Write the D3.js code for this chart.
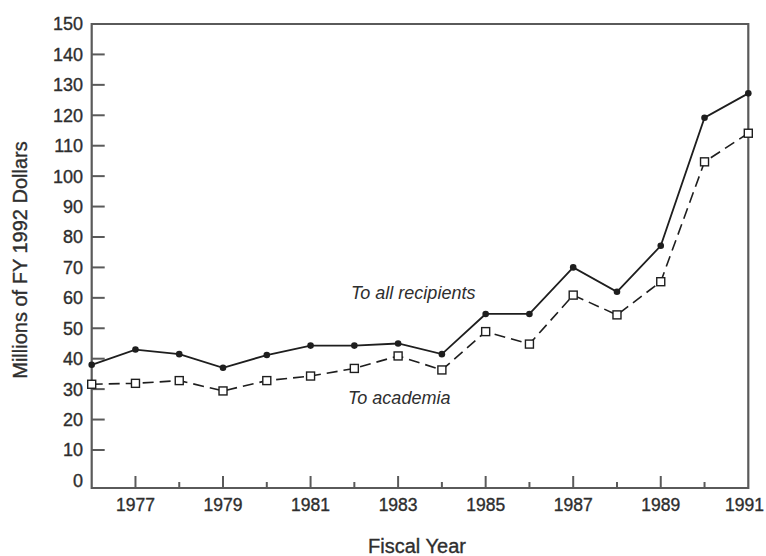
<!DOCTYPE html>
<html><head><meta charset="utf-8">
<script src="https://cdn.jsdelivr.net/npm/d3@7"></script>
<style>body{margin:0;background:#fff}svg{display:block}text{font-family:"Liberation Sans",Arial,sans-serif}</style>
</head><body>
<svg id="c" width="766" height="556"></svg>
<script>
const years = [1976,1977,1978,1979,1980,1981,1982,1983,1984,1985,1986,1987,1988,1989,1990,1991];
const allRecipients = [38,43,41.5,37,41.2,44.3,44.3,45,41.5,54.7,54.7,70,62,77.1,119.2,127.2];
const academia = [31.6,31.9,32.8,29.4,32.8,34.3,36.8,40.9,36.3,48.9,44.8,60.9,54.4,65.3,104.7,114.1];
const yTicks = [0,10,20,30,40,50,60,70,80,90,100,110,120,130,140,150];
const xLabelYears = [1977,1979,1981,1983,1985,1987,1989,1991];

const svg = d3.select("#c");
const L = 91.7, R = 748.3, T = 24, B = 488;
const x = d3.scaleLinear().domain([1976,1991]).range([L,R]);
const y = d3.scaleLinear().domain([0,150]).range([480.4,T]);
const axisColor = "#5a5a5a", ink = "#1e1e1e", txt = "#2e2e2e";

function styleText(sel, size){
  return sel.attr("font-size",size).attr("fill",txt).attr("stroke",txt).attr("stroke-width",0.35);
}

svg.append("path").attr("d",`M${L},${B}V${T}H${R}V${B}Z`)
  .attr("fill","none").attr("stroke",axisColor).attr("stroke-width",2.2);

yTicks.filter(v=>v>0 && v<150).forEach(v=>{
  svg.append("line").attr("x1",L).attr("x2",L+13).attr("y1",y(v)).attr("y2",y(v))
    .attr("stroke",axisColor).attr("stroke-width",2);
});
yTicks.forEach(v=>{
  styleText(svg.append("text").attr("x",83).attr("y",y(v)).attr("dy","0.36em")
    .attr("text-anchor","end"),18).text(v);
});

years.filter(yr=>yr>1976 && yr<1991).forEach(yr=>{
  const major = yr%2===1;
  svg.append("line").attr("x1",x(yr)).attr("x2",x(yr)).attr("y1",B).attr("y2",B-(major?12:6))
    .attr("stroke",axisColor).attr("stroke-width",2);
});
xLabelYears.forEach(yr=>{
  const last = yr===1991;
  styleText(svg.append("text").attr("x",last?764:x(yr)).attr("y",511)
    .attr("text-anchor",last?"end":"middle"),17.5).text(yr);
});

styleText(svg.append("text").attr("x",417).attr("y",553).attr("text-anchor","middle"),20).text("Fiscal Year");
styleText(svg.append("text").attr("transform","translate(27,260) rotate(-90)").attr("text-anchor","middle"),20)
  .text("Millions of FY 1992 Dollars");

const line = d3.line().x((d,i)=>x(years[i])).y(d=>y(d));

svg.append("path").datum(academia).attr("d",line).attr("fill","none")
  .attr("stroke",ink).attr("stroke-width",1.6).attr("stroke-dasharray","11,6");
svg.append("path").datum(allRecipients).attr("d",line).attr("fill","none")
  .attr("stroke",ink).attr("stroke-width",1.8);

svg.selectAll("rect.m").data(academia).enter().append("rect").attr("class","m")
  .attr("x",(d,i)=>x(years[i])-4).attr("y",d=>y(d)-4).attr("width",8).attr("height",8)
  .attr("fill","#fff").attr("stroke",ink).attr("stroke-width",1.4);
svg.selectAll("circle.m").data(allRecipients).enter().append("circle").attr("class","m")
  .attr("cx",(d,i)=>x(years[i])).attr("cy",d=>y(d)).attr("r",3.3).attr("fill",ink);

svg.append("text").attr("x",351).attr("y",299).attr("font-size",18).attr("font-style","italic")
  .attr("fill",txt).text("To all recipients");
svg.append("text").attr("x",348).attr("y",404).attr("font-size",18).attr("font-style","italic")
  .attr("fill",txt).text("To academia");
</script>
</body></html>
